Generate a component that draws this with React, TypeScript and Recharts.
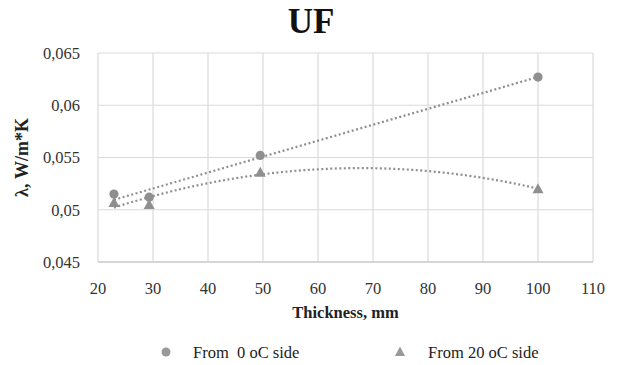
import React from "react"
import { ComposedChart, Scatter, Line, XAxis, YAxis, CartesianGrid, Label } from "recharts"

const thickness = [22.9, 29.3, 49.5, 100]
const fromZeroSide = [0.0515, 0.0512, 0.0552, 0.0627]
const fromTwentySide = [0.0507, 0.0505, 0.0536, 0.052]
const xTicks = [20, 30, 40, 50, 60, 70, 80, 90, 100, 110]
const yTicks = [0.045, 0.05, 0.055, 0.06, 0.065]

const GRAY = "#8f8f8f"
const FONT = '"Liberation Serif", "Times New Roman", Times, serif'

// least squares polynomial fit (Excel-style trendline)
function polyFit(xs: number[], ys: number[], order: number): number[] {
  const n = order + 1
  const a: number[][] = []
  for (let i = 0; i < n; i++) {
    const row: number[] = []
    for (let j = 0; j < n; j++) row.push(xs.reduce((s, x) => s + Math.pow(x, i + j), 0))
    row.push(xs.reduce((s, x, k) => s + Math.pow(x, i) * ys[k], 0))
    a.push(row)
  }
  for (let c = 0; c < n; c++) {
    for (let r = c + 1; r < n; r++) {
      const f = a[r][c] / a[c][c]
      for (let k = c; k <= n; k++) a[r][k] -= f * a[c][k]
    }
  }
  const coef = new Array(n).fill(0)
  for (let r = n - 1; r >= 0; r--) {
    let s = a[r][n]
    for (let k = r + 1; k < n; k++) s -= a[r][k] * coef[k]
    coef[r] = s / a[r][r]
  }
  return coef
}

function trend(xs: number[], ys: number[], order: number) {
  const coef = polyFit(xs, ys, order)
  const x0 = Math.min(...xs)
  const x1 = Math.max(...xs)
  const steps = 60
  const pts = []
  for (let i = 0; i <= steps; i++) {
    const x = x0 + ((x1 - x0) * i) / steps
    pts.push({ x, y: coef.reduce((s, c, p) => s + c * Math.pow(x, p), 0) })
  }
  return pts
}

const zeroData = thickness.map((x, i) => ({ x, y: fromZeroSide[i] }))
const twentyData = thickness.map((x, i) => ({ x, y: fromTwentySide[i] }))
const zeroTrend = trend(thickness, fromZeroSide, 1)
const twentyTrend = trend(thickness, fromTwentySide, 2)

const CircleDot = (props: any) => <circle cx={props.cx} cy={props.cy} r={4.6} fill={GRAY} />
const TriangleDot = (props: any) => (
  <path
    d={`M${props.cx},${props.cy - 5.5} L${props.cx + 5.5},${props.cy + 4.5} L${props.cx - 5.5},${props.cy + 4.5} Z`}
    fill={GRAY}
  />
)

const tickStyle = { style: { fontFamily: FONT }, fontSize: 16.5, fill: "#333" }
const txt = (size: number, bold = false) => ({
  fontFamily: FONT,
  fontSize: size,
  fontWeight: bold ? "bold" : "normal",
})

export default function App() {
  return (
    <div
      style={{
        position: "absolute",
        left: 0,
        top: 0,
        width: 618,
        height: 365,
        background: "#fff",
        fontFamily: FONT,
      }}
    >
      <ComposedChart
        width={618}
        height={365}
        margin={{ top: 53, right: 25, bottom: 73, left: 38 }}
        style={{ fontFamily: FONT }}
      >
        <CartesianGrid stroke="#dadada" strokeWidth={1.2} />
        <XAxis
          type="number"
          dataKey="x"
          domain={[20, 110]}
          ticks={xTicks}
          interval={0}
          height={30}
          tickLine={false}
          axisLine={{ stroke: "#cfcfcf", strokeWidth: 1.5 }}
          tickSize={0}
          tickMargin={20}
          tick={tickStyle}
        >
          <Label
            value="Thickness, mm"
            position="bottom"
            offset={14}
            style={{ ...txt(16.5, true), fill: "#222" }}
          />
        </XAxis>
        <YAxis
          type="number"
          dataKey="y"
          domain={[0.045, 0.065]}
          ticks={yTicks}
          interval={0}
          width={60}
          tickLine={false}
          axisLine={false}
          tickSize={0}
          tickMargin={18}
          tickFormatter={(v: number) => String(Number(v.toFixed(3))).replace(".", ",")}
          tick={tickStyle}
        >
          <Label
            value="λ, W/m*K"
            angle={-90}
            position="insideLeft"
            offset={-16}
            style={{ ...txt(18, true), fill: "#222", textAnchor: "middle" }}
          />
        </YAxis>
        <Line
          data={zeroTrend}
          dataKey="y"
          type="linear"
          stroke={GRAY}
          strokeWidth={2.2}
          strokeDasharray="2 2.5"
          dot={false}
          activeDot={false}
          isAnimationActive={false}
        />
        <Line
          data={twentyTrend}
          dataKey="y"
          type="monotone"
          stroke={GRAY}
          strokeWidth={2.2}
          strokeDasharray="2 2.5"
          dot={false}
          activeDot={false}
          isAnimationActive={false}
        />
        <Scatter data={zeroData} shape={CircleDot} isAnimationActive={false} />
        <Scatter data={twentyData} shape={TriangleDot} isAnimationActive={false} />
      </ComposedChart>
      <svg width={618} height={365} style={{ position: "absolute", left: 0, top: 0, pointerEvents: "none" }}>
        <text x={311} y={33} textAnchor="middle" style={txt(35, true)} fill="#111">
          UF
        </text>
        <circle cx={166} cy={352} r={4.5} fill="#999" />
        <text x={193} y={358} style={{ ...txt(16.5), whiteSpace: "pre" }} fill="#222">
          From  0 oC side
        </text>
        <path d="M400,346.5 L405,356 L395,356 Z" fill="#999" />
        <text x={428} y={358} style={txt(16.5)} fill="#222">
          From 20 oC side
        </text>
      </svg>
    </div>
  )
}
